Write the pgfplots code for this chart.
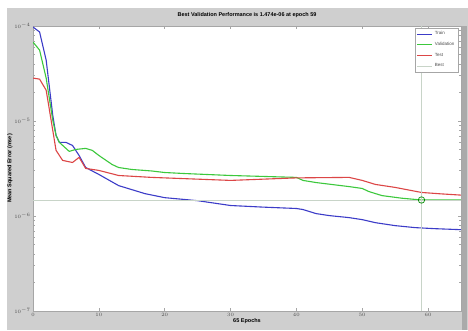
\documentclass[border=0pt]{standalone}
\usepackage{pgfplots}
\pgfplotsset{compat=1.18}
\usepackage{fontspec}
\setmainfont{Liberation Sans}
\definecolor{bgg}{RGB}{207,207,207}
\definecolor{bgd}{RGB}{170,170,170}
\definecolor{mblue}{RGB}{60,60,200}
\definecolor{mgreen}{RGB}{60,200,60}
\definecolor{mred}{RGB}{220,70,70}
\definecolor{mbest}{RGB}{200,212,200}
\begin{document}
\begin{tikzpicture}
\useasboundingbox (0pt,0pt) rectangle (468pt,330pt);
\fill[white] (0pt,0pt) rectangle (468pt,330pt);
\fill[bgg] (7pt,0pt) rectangle (468pt,322pt);
\fill[bgd] (462pt,0pt) rectangle (467pt,304pt);
\begin{axis}[
  at={(33pt,19pt)}, anchor=south west,
  scale only axis, width=428pt, height=285pt,
  ymode=log, xmin=0, xmax=65, ymin=1e-7, ymax=1e-4,
  xtick={0,10,...,60},
  ytick={1e-7,1e-6,1e-5,1e-4},
  axis background/.style={fill=white},
  axis line style={gray!70},
  tick style={gray!70, line width=0.4pt},
  major tick length=3pt, minor tick length=2pt,
  tick label style={font=\fontsize{4.5}{5}\selectfont, text=black!70},
  xticklabel style={yshift=1pt},
  yticklabel style={xshift=1pt},
  title={Best Validation Performance is 1.474e-06 at epoch 59},
  title style={font=\fontsize{5.5}{6}\bfseries\selectfont, yshift=-1pt},
  xlabel={65 Epochs},
  xlabel style={font=\fontsize{5.5}{6}\bfseries\selectfont, yshift=5pt},
  ylabel={Mean Squared Error  (mse)},
  ylabel style={font=\fontsize{5.5}{6}\bfseries\selectfont, yshift=-5pt},
  legend style={at={(0.993,0.993)}, anchor=north east,
    font=\fontsize{4.5}{5.5}\selectfont, draw=gray!70, inner sep=1.5pt,
    row sep=2pt, text=black!70},
  legend cell align=left,
  legend image code/.code={\draw[#1, line width=0.8pt] (0pt,0pt) -- (15pt,0pt);},
  every axis plot/.append style={line width=1.1pt},
]
\addplot[mblue] coordinates {
(0,9.76e-5) (1,8.65e-5) (2,4.37e-5) (3,1.15e-5) (3.5,7.06e-6) (4,5.96e-6)
(5,5.96e-6) (6,5.53e-6) (7,4.34e-6) (8,3.24e-6) (10,2.74e-6) (13,2.09e-6)
(17,1.72e-6) (20,1.56e-6) (25,1.45e-6) (30,1.29e-6) (35,1.24e-6) (40,1.20e-6)
(41,1.17e-6) (43,1.06e-6) (45,1.01e-6) (48,9.62e-7) (50,9.16e-7) (52,8.51e-7)
(55,7.92e-7) (58,7.55e-7) (61,7.36e-7) (65,7.18e-7)};
\addlegendentry{Train}
\addplot[mgreen] coordinates {
(0,6.77e-5) (1,5.58e-5) (2,2.83e-5) (3,1.02e-5) (3.5,7.06e-6) (4,5.96e-6)
(5,5.15e-6) (5.5,4.79e-6) (6.5,5.02e-6) (8,5.15e-6) (9,4.91e-6) (10,4.34e-6)
(12,3.49e-6) (13,3.24e-6) (15,3.09e-6) (18,2.98e-6) (20,2.87e-6) (23,2.80e-6)
(30,2.67e-6) (35,2.61e-6) (40,2.55e-6) (41,2.37e-6) (43,2.25e-6) (48,2.04e-6)
(50,1.95e-6) (51,1.81e-6) (53,1.64e-6) (56,1.54e-6) (59,1.474e-6) (62,1.48e-6)
(65,1.48e-6)};
\addlegendentry{Validation}
\addplot[mred] coordinates {
(0,2.83e-5) (1,2.76e-5) (2,2.11e-5) (2.5,1.30e-5) (3.5,4.91e-6) (4.5,3.85e-6)
(6,3.66e-6) (7,4.14e-6) (8,3.17e-6) (10,3.02e-6) (13,2.67e-6) (18,2.55e-6)
(30,2.37e-6) (40,2.52e-6) (48,2.55e-6) (50,2.37e-6) (52,2.15e-6) (55,2.00e-6)
(59,1.77e-6) (62,1.71e-6) (65,1.66e-6)};
\addlegendentry{Test}
\addplot[mbest, line width=0.8pt] coordinates {(0,1.474e-6) (65,1.474e-6)};
\addlegendentry{Best}
\addplot[mbest, line width=0.8pt, forget plot] coordinates {(59,1e-7) (59,1e-4)};
\addplot[only marks, mark=o, mark size=3.2pt, green!55!black, line width=0.7pt, forget plot] coordinates {(59,1.474e-6)};
\end{axis}
\end{tikzpicture}
\end{document}
